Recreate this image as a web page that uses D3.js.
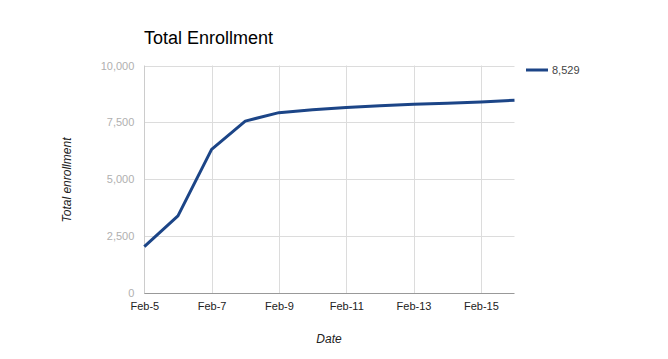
<!DOCTYPE html>
<html>
<head>
<meta charset="utf-8">
<script src="https://cdn.jsdelivr.net/npm/d3@7/dist/d3.min.js"></script>
<style>
  html, body { margin: 0; padding: 0; background: #fff; }
  svg { display: block; font-family: "Liberation Sans", Arial, sans-serif; }
</style>
</head>
<body>
<svg id="chart" width="668" height="359"></svg>
<script>
// ---- data ----
const dates = ["2014-02-05","2014-02-06","2014-02-07","2014-02-08","2014-02-09","2014-02-10",
               "2014-02-11","2014-02-12","2014-02-13","2014-02-14","2014-02-15","2014-02-16"];
const enrollment = [2050, 3400, 6320, 7560, 7930, 8055, 8160, 8235, 8300, 8345, 8400, 8475];
const yTicks = [0, 2500, 5000, 7500, 10000];
const xTickDates = ["2014-02-05","2014-02-07","2014-02-09","2014-02-11","2014-02-13","2014-02-15"];
const seriesName = "8,529";
const titleText = "Total Enrollment";
const xTitle = "Date";
const yTitle = "Total enrollment";

// ---- layout ----
const parse = d3.timeParse("%Y-%m-%d");
const svg = d3.select("#chart");
const pLeft = 144.3, pRight = 514.5, pTop = 65.5, pBottom = 293.3;

const x = d3.scaleTime()
  .domain([parse(dates[0]), parse(dates[dates.length - 1])])
  .range([pLeft, pRight]);
const y = d3.scaleLinear().domain([0, 10000]).range([pBottom, pTop]);

// gridlines
const g = svg.append("g");
g.selectAll("line.hg").data(yTicks.filter(d => d > 0)).join("line")
  .attr("x1", pLeft).attr("x2", pRight)
  .attr("y1", d => Math.round(y(d)) + 0.5).attr("y2", d => Math.round(y(d)) + 0.5)
  .attr("stroke", "#dcdcdc").attr("stroke-width", 1);
g.selectAll("line.vg").data(xTickDates.map(parse).slice(1)).join("line")
  .attr("x1", d => Math.round(x(d)) + 0.5).attr("x2", d => Math.round(x(d)) + 0.5)
  .attr("y1", pTop).attr("y2", pBottom)
  .attr("stroke", "#dcdcdc").attr("stroke-width", 1);

// left axis line
g.append("line")
  .attr("x1", Math.round(pLeft) + 0.5).attr("x2", Math.round(pLeft) + 0.5)
  .attr("y1", pTop).attr("y2", pBottom)
  .attr("stroke", "#cccccc");

// y axis labels via d3 axis
const yAxis = d3.axisLeft(y).tickValues(yTicks).tickSize(0).tickPadding(10)
  .tickFormat(d3.format(","));
const ya = svg.append("g").attr("transform", `translate(${pLeft},0)`).call(yAxis);
ya.select(".domain").remove();
ya.selectAll("text").attr("fill", "#b0b0b0").style("font-size", "11px")
  .style("font-family", "Liberation Sans, Arial, sans-serif");

// x axis labels
const xAxis = d3.axisBottom(x).tickValues(xTickDates.map(parse)).tickSize(0).tickPadding(9)
  .tickFormat(d3.timeFormat("%b-%-d"));
const xa = svg.append("g").attr("transform", `translate(0,${pBottom})`).call(xAxis);
xa.select(".domain").remove();
xa.selectAll("text").attr("fill", "#222").style("font-size", "11px")
  .style("font-family", "Liberation Sans, Arial, sans-serif");

// baseline
svg.append("line")
  .attr("x1", pLeft).attr("x2", pRight)
  .attr("y1", Math.round(pBottom) + 0.5).attr("y2", Math.round(pBottom) + 0.5)
  .attr("stroke", "#999999");

// line
const line = d3.line()
  .x((d, i) => x(parse(dates[i])))
  .y(d => y(d));
svg.append("path").datum(enrollment)
  .attr("d", line)
  .attr("fill", "none")
  .attr("stroke", "#1c4587")
  .attr("stroke-width", 3)
  .attr("stroke-linejoin", "round");

// title
svg.append("text").attr("x", 144).attr("y", 44)
  .attr("fill", "#000").style("font-size", "18px").text(titleText);

// axis titles
svg.append("text").attr("x", 329).attr("y", 343).attr("text-anchor", "middle")
  .style("font-style", "italic").style("font-size", "12px").attr("fill", "#222").text(xTitle);
svg.append("text").attr("transform", "translate(71,180) rotate(-90)").attr("text-anchor", "middle")
  .style("font-style", "italic").style("font-size", "12px").attr("fill", "#222").text(yTitle);

// legend
svg.append("line").attr("x1", 526).attr("x2", 548).attr("y1", 70).attr("y2", 70)
  .attr("stroke", "#1c4587").attr("stroke-width", 3);
svg.append("text").attr("x", 552).attr("y", 74).attr("fill", "#444")
  .style("font-size", "11px").text(seriesName);
</script>
</body>
</html>
